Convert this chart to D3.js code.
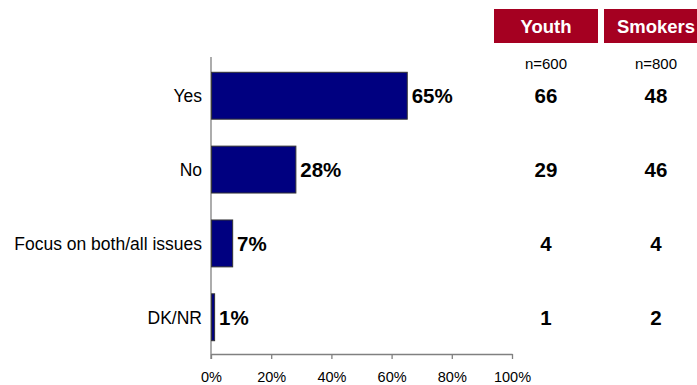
<!DOCTYPE html>
<html>
<head>
<meta charset="utf-8">
<script src="https://cdn.jsdelivr.net/npm/d3@7"></script>
<style>
  body { margin: 0; background: #fff; }
  svg { display: block; font-family: Arial, "Liberation Sans", sans-serif; }
</style>
</head>
<body>
<svg id="chart" width="697" height="385"></svg>
<script>
// Answer categories and overall share (%)
const categories = ["Yes", "No", "Focus on both/all issues", "DK/NR"];
const totalValues = [65, 28, 7, 1];

// Comparison columns
const groups = ["Youth", "Smokers"];
const groupSizes = ["n=600", "n=800"];
const youthValues = [66, 29, 4, 1];
const smokerValues = [48, 46, 4, 2];

const xTicks = [0, 20, 40, 60, 80, 100];

const svg = d3.select("#chart");

const x = d3.scaleLinear().domain([0, 100]).range([211, 512]);
const y = d3.scaleBand().domain(categories).range([59, 354]).paddingInner(0.365).paddingOuter(0.18);

// Value axis
const xAxis = d3.axisBottom(x)
  .tickValues(xTicks)
  .tickFormat(d => d + "%")
  .tickSize(5)
  .tickSizeOuter(0);
const gx = svg.append("g").attr("transform", "translate(0,354)").call(xAxis);
gx.select(".domain").attr("stroke", "#808080").attr("stroke-width", 1.3);
gx.selectAll(".tick line").attr("stroke", "#808080").attr("stroke-width", 1.3);
gx.selectAll(".tick text")
  .attr("dy", 0)
  .attr("y", 28)
  .attr("fill", "#000")
  .style("font-size", "14.5px")
  .style("font-family", "Arial, 'Liberation Sans', sans-serif");

// Category axis line
svg.append("line")
  .attr("x1", x(0)).attr("x2", x(0))
  .attr("y1", 57).attr("y2", 359)
  .attr("stroke", "#808080").attr("stroke-width", 1.3);

// Bars
svg.selectAll("rect.bar")
  .data(categories)
  .join("rect")
  .attr("class", "bar")
  .attr("x", x(0) + 0.6)
  .attr("y", d => y(d))
  .attr("width", (d, i) => x(totalValues[i]) - x(0))
  .attr("height", y.bandwidth())
  .attr("fill", "#000080")
  .attr("stroke", "#333")
  .attr("stroke-width", 1);

// Category labels
svg.selectAll("text.cat")
  .data(categories)
  .join("text")
  .attr("class", "cat")
  .attr("x", 202)
  .attr("y", d => y(d) + y.bandwidth() / 2)
  .attr("dy", "0.36em")
  .attr("text-anchor", "end")
  .style("font-size", "17.5px")
  .text(d => d);

// Value labels
svg.selectAll("text.val")
  .data(categories)
  .join("text")
  .attr("class", "val")
  .attr("x", (d, i) => x(totalValues[i]) + 5)
  .attr("y", d => y(d) + y.bandwidth() / 2)
  .attr("dy", "0.36em")
  .style("font-size", "20.5px")
  .style("font-weight", "bold")
  .text((d, i) => totalValues[i] + "%");

// Comparison columns
const colX = [546, 656];
const colValues = [youthValues, smokerValues];

groups.forEach((g, gi) => {
  const cx = colX[gi];
  svg.append("rect")
    .attr("x", cx - 52).attr("y", 9)
    .attr("width", 104).attr("height", 34)
    .attr("fill", "#a50021");
  svg.append("text")
    .attr("x", cx).attr("y", 26)
    .attr("dy", "0.36em")
    .attr("text-anchor", "middle")
    .attr("fill", "#fff")
    .style("font-size", "18.5px")
    .style("font-weight", "bold")
    .text(g);
  svg.append("text")
    .attr("x", cx).attr("y", 64)
    .attr("dy", "0.36em")
    .attr("text-anchor", "middle")
    .style("font-size", "15px")
    .text(groupSizes[gi]);
  svg.selectAll("text.col" + gi)
    .data(categories)
    .join("text")
    .attr("class", "col" + gi)
    .attr("x", cx)
    .attr("y", d => y(d) + y.bandwidth() / 2)
    .attr("dy", "0.36em")
    .attr("text-anchor", "middle")
    .style("font-size", "20.5px")
    .style("font-weight", "bold")
    .text((d, i) => colValues[gi][i]);
});
</script>
</body>
</html>
